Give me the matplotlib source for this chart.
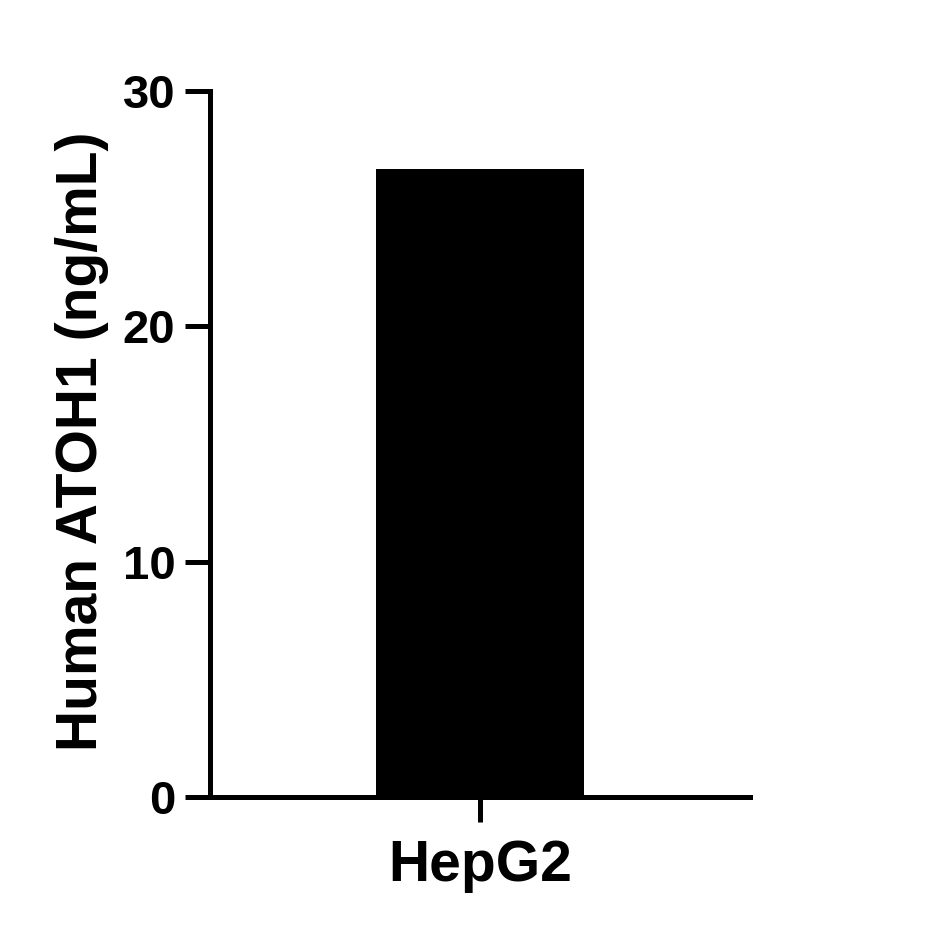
import matplotlib
matplotlib.use("Agg")
import matplotlib.pyplot as plt

categories = ["HepG2"]
values = [26.7]
yticks = [0, 10, 20, 30]

plt.rcParams['font.family'] = ['Liberation Sans', 'DejaVu Sans']
plt.rcParams['font.weight'] = 'bold'

fig = plt.figure(figsize=(9.3, 9.33), dpi=100)
ax = fig.add_axes([210/930, 1-797/933, 540/930, 706/933])

ax.bar(range(len(categories)), values, width=0.8, color='black')
ax.set_xlim(-1.04, 1.04)
ax.set_ylim(0, 30)
ax.set_yticks(yticks)
ax.set_xticks(range(len(categories)))
ax.set_xticklabels(categories)

for s in ['top', 'right']:
    ax.spines[s].set_visible(False)
for s in ['left', 'bottom']:
    ax.spines[s].set_linewidth(3.6)
    ax.spines[s].set_capstyle('projecting')

ax.tick_params(axis='y', length=18, width=3.6, labelsize=34, pad=7)
ax.tick_params(axis='x', length=18, width=3.6, labelsize=41, pad=12)
for lab in ax.get_xticklabels() + ax.get_yticklabels():
    lab.set_fontweight('bold')

ax.set_ylabel("Human ATOH1 (ng/mL)", fontsize=41, fontweight='bold')
ax.yaxis.set_label_coords(-0.187, 0.504)

fig.savefig("out.png", dpi=100)
